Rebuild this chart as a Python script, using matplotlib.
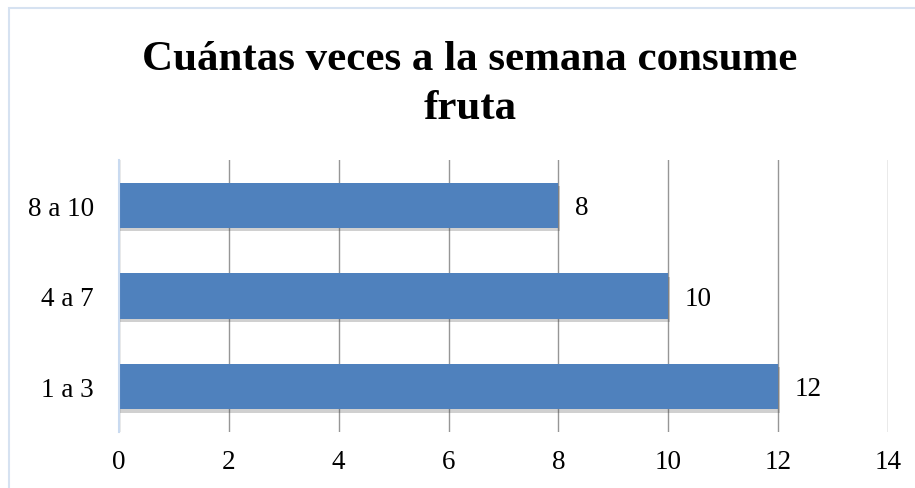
import matplotlib
matplotlib.use("Agg")
import matplotlib.pyplot as plt
from matplotlib.patches import Rectangle
import matplotlib.patheffects as pe

categories = ["1 a 3", "4 a 7", "8 a 10"]
values = [12, 10, 8]
xticks = [0, 2, 4, 6, 8, 10, 12, 14]
title = "Cuántas veces a la semana consume\nfruta"

plt.rcParams['font.family'] = ['Liberation Serif', 'DejaVu Serif']

W, H = 915, 489
fig = plt.figure(figsize=(W / 100, H / 100), dpi=100)

# chart frame
fig.patches.append(Rectangle((9 / W, -0.1), 1.2, 1 - 9 / H + 0.1, transform=fig.transFigure,
                             fill=False, edgecolor='#D6E2F1', linewidth=1.5))

ax = fig.add_axes([119 / W, 1 - 433 / H, (888 - 119) / W, (433 - 161) / H])
ypos = list(range(len(categories)))
bars = ax.barh(ypos, values, height=0.5, color='#4F81BD', zorder=3,
               path_effects=[pe.SimplePatchShadow(offset=(1, -2.5), alpha=0.25, shadow_rgbFace='#444444'),
                             pe.Normal()])
ax.set_xlim(0, 14)
ax.set_ylim(-0.5, len(categories) - 0.5)
ax.set_xticks(xticks)
ax.set_xticklabels([str(t) for t in xticks])
ax.set_yticks(ypos)
ax.set_yticklabels(categories)
ax.tick_params(axis='both', length=0, labelsize=19.5, colors='black')
ax.tick_params(axis='x', pad=12)
ax.tick_params(axis='y', pad=18)
ax.grid(axis='x', color='#969696', linewidth=1, zorder=1)
for s in ['top', 'right', 'bottom']:
    ax.spines[s].set_visible(False)
ax.spines['left'].set_color('#C9DAF0')
ax.spines['left'].set_linewidth(1.5)
ax.spines['left'].set_zorder(4)

for y, v in zip(ypos, values):
    ax.annotate(str(v), (v, y), xytext=(12, -1.5), textcoords='offset points',
                ha='left', va='center', fontsize=19.5)

fig.text(470 / W, 1 - 119 / H, title, ha='center', va='baseline', fontsize=31,
         fontweight='bold', linespacing=1.37)

fig.savefig('out.png', dpi=100)
